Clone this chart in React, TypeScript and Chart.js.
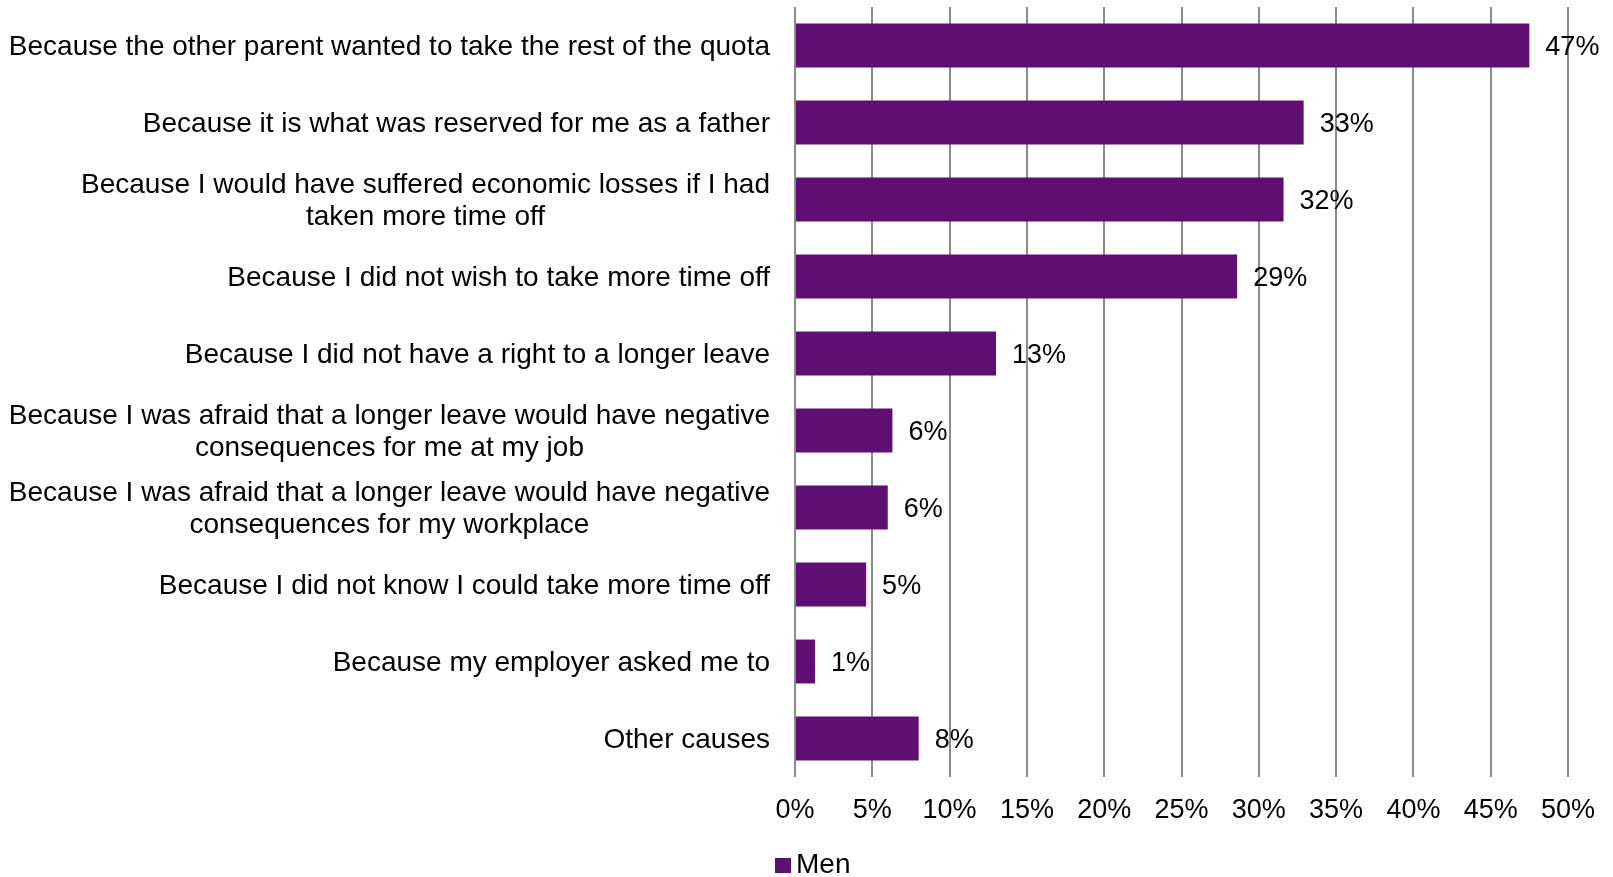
import { useEffect, useRef } from "react";
import { Chart, registerables } from "chart.js";

Chart.register(...registerables);

const categories: string[][] = [
  ["Because the other parent wanted to take the rest of the quota"],
  ["Because it is what was reserved for me as a father"],
  ["Because I would have suffered economic losses if I had", "taken more time off"],
  ["Because I did not wish to take more time off"],
  ["Because I did not have a right to a longer leave"],
  ["Because I was afraid that a longer leave would have negative", "consequences for me at my job"],
  ["Because I was afraid that a longer leave would have negative", "consequences for my workplace"],
  ["Because I did not know I could take more time off"],
  ["Because my employer asked me to"],
  ["Other causes"],
];

const seriesName = "Men";
const menValues: number[] = [47.5, 32.9, 31.6, 28.6, 13.0, 6.3, 6.0, 4.6, 1.3, 8.0];
const valueLabels: string[] = ["47%", "33%", "32%", "29%", "13%", "6%", "6%", "5%", "1%", "8%"];
const xTickValues: number[] = [0, 5, 10, 15, 20, 25, 30, 35, 40, 45, 50];

const FONT_FAMILY = "'Liberation Sans', Arial, sans-serif";
const FONT_SIZE = 27;
const CAT_FONT_SIZE = 28;
const BAR_COLOR = "#5F0F72";
const GRID_COLOR = "#8a8a8a";

export default function App() {
  const ref = useRef<HTMLCanvasElement>(null);

  useEffect(() => {
    if (!ref.current) return;
    const labelPlugin = {
      id: "catLabels",
      afterDraw(chart: any) {
        const ctx = chart.ctx;
        const yScale = chart.scales.y;
        ctx.save();
        ctx.fillStyle = "#000";
        ctx.textBaseline = "middle";
        ctx.textAlign = "center";
        ctx.font = `${CAT_FONT_SIZE}px ${FONT_FAMILY}`;
        const right = chart.chartArea.left - 25;
        const lineH = 32;
        categories.forEach((lines, i) => {
          const cy = yScale.getPixelForValue(i) + 2;
          const w = Math.max(...lines.map((l) => ctx.measureText(l).width));
          const cx = right - w / 2;
          lines.forEach((l, k) => {
            ctx.fillText(l, cx, cy + (k - (lines.length - 1) / 2) * lineH);
          });
        });
        ctx.font = `${FONT_SIZE}px ${FONT_FAMILY}`;
        const meta = chart.getDatasetMeta(0);
        ctx.textAlign = "left";
        meta.data.forEach((bar: any, i: number) => {
          ctx.fillText(valueLabels[i], bar.x + 16, bar.y + 2);
        });
        // legend
        const ds = chart.data.datasets[0];
        const lx = chart.chartArea.left - 20;
        const ly = chart.chartArea.bottom + 88;
        ctx.fillStyle = ds.backgroundColor;
        ctx.fillRect(lx, ly - 7, 16, 15);
        ctx.fillStyle = "#000";
        ctx.font = `28px ${FONT_FAMILY}`;
        ctx.fillText(ds.label, lx + 21, ly);
        ctx.restore();
      },
    };

    const chart = new Chart(ref.current, {
      type: "bar",
      data: {
        labels: categories.map((l) => l.join(" ")),
        datasets: [
          {
            label: seriesName,
            data: menValues,
            backgroundColor: BAR_COLOR,
            borderWidth: 0,
            categoryPercentage: 1,
            barPercentage: 0.57,
          },
        ],
      },
      options: {
        indexAxis: "y",
        animation: false,
        responsive: false,
        maintainAspectRatio: false,
        layout: { padding: { top: 7, right: 45, bottom: 37, left: 0 } },
        scales: {
          x: {
            min: 0,
            max: 50,
            afterBuildTicks: (scale: any) => {
              scale.ticks = xTickValues.map((v) => ({ value: v }));
            },
            ticks: {
              callback: (v: any) => `${v}%`,
              font: { size: FONT_SIZE, family: FONT_FAMILY },
              color: "#000",
              padding: 17,
              maxRotation: 0,
              autoSkip: false,
            },
            grid: { color: GRID_COLOR, lineWidth: 2, drawTicks: false },
            border: { display: false },
            afterFit: (scale: any) => {
              scale.height = 63;
            },
          },
          y: {
            ticks: { display: false },
            grid: { display: false },
            border: { display: false },
            afterFit: (scale: any) => {
              scale.width = 795;
            },
          },
        },
        plugins: {
          legend: { display: false },
          tooltip: { enabled: false },
        },
      },
      plugins: [labelPlugin],
    } as any);
    return () => chart.destroy();
  }, []);

  return (
    <div style={{ position: "absolute", left: 0, top: 0, width: 1613, height: 877, background: "#fff" }}>
      <canvas ref={ref} width={1613} height={877} style={{ width: 1613, height: 877, display: "block" }} />
    </div>
  );
}
